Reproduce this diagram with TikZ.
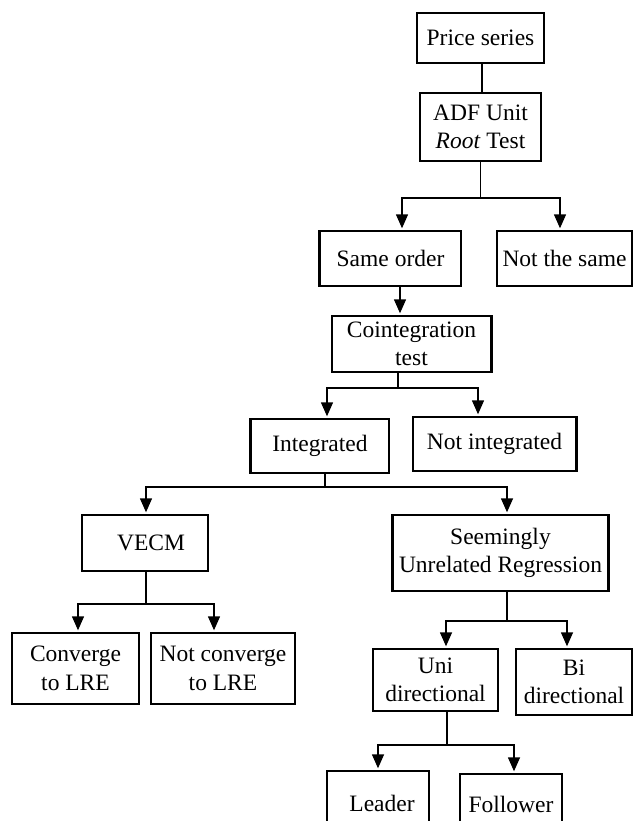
\documentclass[tikz,border=0pt]{standalone}
\usepackage{fontspec}
\setmainfont{Liberation Serif}
\usetikzlibrary{arrows.meta}
\begin{document}
\begin{tikzpicture}[x=1pt,y=-1pt,
  box/.style={draw, line width=1.4pt, inner sep=0pt, align=center,
    font=\fontsize{23.5}{28.5}\selectfont},
  conn/.style={line width=1.4pt},
  arr/.style={conn, -{Triangle[width=12pt,length=14pt]}, shorten >=2pt},
  edge/.style={line width=2.8pt}]
\useasboundingbox (0,0) rectangle (633,821);
\clip (0,0) rectangle (633,821);
\node[box, minimum width=127pt, minimum height=50pt] (price) at (480.5,38) {Price series};
\node[box, minimum width=121pt, minimum height=68pt] (adf) at (480.5,127) {ADF Unit\\\textit{Root} Test};
\node[box, minimum width=141pt, minimum height=55pt] (same) at (390.5,258.5) {Same order};
\node[box, minimum width=135pt, minimum height=55pt] (notsame) at (564.5,258.5) {Not the same};
\node[box, minimum width=159pt, minimum height=56pt] (coint) at (411.5,344) {Cointegration\\test};
\node[box, minimum width=138pt, minimum height=54pt] (integ) at (320,446) {Integrated};
\node[box, minimum width=163pt, minimum height=54pt] (notint) at (494.5,444) {Not integrated};
\node[box, minimum width=126pt, minimum height=56pt] (vecm) at (145,543) {\hspace*{12pt}VECM};
\node[box, minimum width=215pt, minimum height=76pt] (sur) at (500.5,553) {Seemingly\\Unrelated Regression};
\node[box, minimum width=127pt, minimum height=71pt] (conv) at (75.5,668.5) {Converge\\to LRE};
\node[box, minimum width=144pt, minimum height=71pt] (notconv) at (223,668.5) {Not converge\\to LRE};
\node[box, minimum width=125pt, minimum height=62pt] (uni) at (435.5,680) {Uni\\directional};
\node[box, minimum width=116pt, minimum height=66pt] (bi) at (574,682) {Bi\\directional};
\node[box, minimum width=102pt, minimum height=64pt] (leader) at (378,803) {\hspace*{8pt}Leader};
\node[box, minimum width=102pt, minimum height=61pt] (follower) at (511,804.5) {Follower};
% thicker edges
\draw[edge] (same.north west) -- (same.south west);
\draw[edge] (coint.north east) -- (coint.south east);
\draw[edge] (integ.north west) -- (integ.south west);
\draw[edge] (notint.north east) -- (notint.south east);
\draw[edge] (sur.north west) -- (sur.south west);
\draw[edge] (sur.north east) -- (sur.south east);
% junctions
\coordinate (j1) at (480.5,198);
\coordinate (j2) at (398,388);
\coordinate (j3) at (325,487);
\coordinate (j4) at (146,604);
\coordinate (j5) at (507,621);
\coordinate (j6) at (447,745);
% connectors
\draw[conn] ([xshift=1.5pt]price.south) -- ([xshift=1.5pt]adf.north);
\draw[conn] (adf.south) -- (j1);
\draw[arr] (j1) -| ([xshift=11.5pt]same.north);
\draw[arr] (j1) -| ([xshift=-4.5pt]notsame.north);
\draw[arr] ([xshift=9.5pt]same.south) -- ([xshift=9.5pt]same.south |- coint.north);
\draw[conn] (coint.south -| j2) -- (j2);
\draw[arr] (j2) -| ([xshift=7pt]integ.north);
\draw[arr] (j2) -| ([xshift=-16.5pt]notint.north);
\draw[conn] (integ.south -| j3) -- (j3);
\draw[arr] (j3) -| ([xshift=1pt]vecm.north);
\draw[arr] (j3) -| ([xshift=6.5pt]sur.north);
\draw[conn] (vecm.south -| j4) -- (j4);
\draw[arr] (j4) -| ([xshift=2.5pt]conv.north);
\draw[arr] (j4) -| ([xshift=-9pt]notconv.north);
\draw[conn] (sur.south -| j5) -- (j5);
\draw[arr] (j5) -| ([xshift=10.5pt]uni.north);
\draw[arr] (j5) -| ([xshift=-7pt]bi.north);
\draw[conn] (uni.south -| j6) -- (j6);
\draw[arr] (j6) -| (leader.north);
\draw[arr] (j6) -| ([xshift=3pt]follower.north);
\end{tikzpicture}
\end{document}
